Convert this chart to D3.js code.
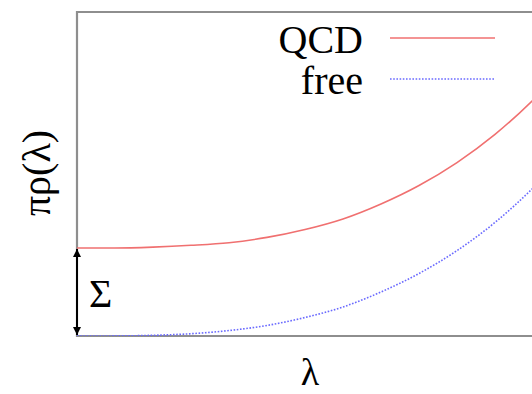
<!DOCTYPE html>
<html>
<head>
<meta charset="utf-8">
<script src="https://cdn.jsdelivr.net/npm/d3@7"></script>
<style>
  html, body { margin: 0; padding: 0; background: #fff; }
  svg { display: block; }
  text { font-family: "Liberation Serif", "Times New Roman", "DejaVu Serif", serif; fill: #000; }
</style>
</head>
<body>
<svg id="chart" width="532" height="394"></svg>
<script>
// Spectral density of the Dirac operator: interacting (QCD) vs free case
const lambda   = [0, 0.2, 0.4, 0.6, 0.8, 1.0, 1.2, 1.4, 1.6, 1.8, 2.0, 2.2, 2.4, 2.5];
const rhoFree  = [0, 0.001, 0.008, 0.026, 0.062, 0.12, 0.21, 0.33, 0.50, 0.71, 0.97, 1.29, 1.68, 1.90];
const rhoQCD   = [1.0, 1.0, 1.01, 1.03, 1.06, 1.12, 1.21, 1.33, 1.50, 1.71, 1.97, 2.29, 2.68, 2.90];
const sigma    = 1.0;
const seriesNames = ["QCD", "free"];

const svg = d3.select("#chart");
const plotLeft = 77, plotRight = 552, plotTop = 12, plotBottom = 336;

const x = d3.scaleLinear().domain([0, 2.5]).range([plotLeft, plotRight]);
const y = d3.scaleLinear().domain([0, 3.68]).range([plotBottom, plotTop]);

const defs = svg.append("defs");
defs.append("clipPath").attr("id", "plotClip")
  .append("rect").attr("x", plotLeft).attr("y", plotTop)
  .attr("width", plotRight - plotLeft).attr("height", plotBottom - plotTop);

defs.append("marker")
  .attr("id", "head").attr("viewBox", "0 0 10 10")
  .attr("refX", 10).attr("refY", 5)
  .attr("markerWidth", 9).attr("markerHeight", 8)
  .attr("markerUnits", "userSpaceOnUse")
  .attr("orient", "auto-start-reverse")
  .append("path").attr("d", "M0,0 L10,5 L0,10 Z").attr("fill", "#000");

// frame
svg.append("path")
  .attr("d", `M${plotRight},${plotTop} L${plotLeft},${plotTop} L${plotLeft},${plotBottom} L${plotRight},${plotBottom}`)
  .attr("fill", "none").attr("stroke", "#8e8e8e").attr("stroke-width", 2.2);

const line = d3.line().x(d => x(d[0])).y(d => y(d[1])).curve(d3.curveMonotoneX);

const plot = svg.append("g").attr("clip-path", "url(#plotClip)");
plot.append("path")
  .datum(lambda.map((l, i) => [l, rhoFree[i]]))
  .attr("d", line).attr("fill", "none")
  .attr("stroke", "#6a6aff").attr("stroke-width", 1.6)
  .attr("stroke-dasharray", "1.6,1.6");
plot.append("path")
  .datum(lambda.map((l, i) => [l, rhoQCD[i]]))
  .attr("d", line).attr("fill", "none")
  .attr("stroke", "#f07070").attr("stroke-width", 1.6);

// Σ arrow: gap between the two densities at λ = 0
svg.append("line")
  .attr("x1", x(0)).attr("x2", x(0))
  .attr("y1", y(0) - 1).attr("y2", y(sigma) + 1)
  .attr("stroke", "#000").attr("stroke-width", 2)
  .attr("marker-start", "url(#head)").attr("marker-end", "url(#head)");

svg.append("text").attr("x", 89).attr("y", 307)
  .attr("font-size", 40).text("Σ");

// legend
const legendY = [38, 79];
const legendStyles = [
  { stroke: "#f07070", dash: null },
  { stroke: "#6a6aff", dash: "1.6,1.6" }
];
seriesNames.forEach((name, i) => {
  svg.append("text").attr("x", 363).attr("y", legendY[i] + 15)
    .attr("text-anchor", "end").attr("font-size", 40).text(name);
  svg.append("line")
    .attr("x1", 390).attr("x2", 495)
    .attr("y1", legendY[i]).attr("y2", legendY[i])
    .attr("stroke", legendStyles[i].stroke).attr("stroke-width", 1.6)
    .attr("stroke-dasharray", legendStyles[i].dash);
});

// axis titles
svg.append("text").attr("x", 310).attr("y", 385)
  .attr("text-anchor", "middle").attr("font-size", 38).text("λ");
svg.append("text")
  .attr("transform", "translate(50,173) rotate(-90)")
  .attr("text-anchor", "middle").attr("font-size", 40).text("πρ(λ)");
</script>
</body>
</html>
